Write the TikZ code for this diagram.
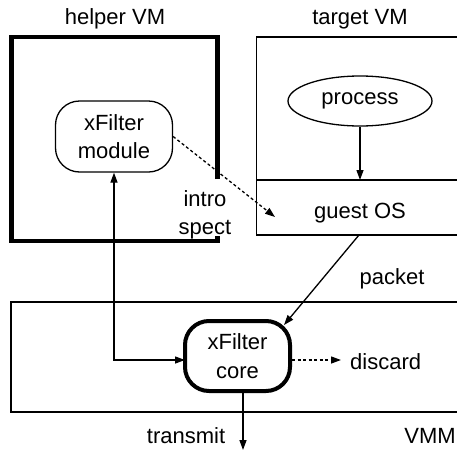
\documentclass[tikz,border=0pt]{standalone}
\usepackage{fontspec}
\setmainfont{Liberation Sans}
\usetikzlibrary{arrows.meta,shapes.geometric}
\begin{document}
\begin{tikzpicture}[x=1pt,y=-1pt,
  lbl/.style={font=\fontsize{22}{28.5}\selectfont, inner sep=0pt, align=center},
  boxline/.style={line width=1.3pt},
  tip/.style={-{Triangle[length=10pt,width=7pt]}},
  rbox/.style={lbl, draw, rounded corners=24pt, line width=1.3pt},
]
\useasboundingbox (0,0) rectangle (457,450);

% helper VM box
\draw[line width=4.5pt] (217.5,179) -- (217.5,37) -- (11.5,37) -- (11.5,241) -- (217.5,241) -- (217.5,236);
\node[lbl] (helperlbl) at (115,19) {helper VM};

% target VM box
\draw[boxline] (458,37) -- (256.5,37) -- (256.5,235) -- (458,235);
\draw[boxline] (256.5,180) -- (458,180);
\node[lbl] (targetlbl) at (360,19) {target VM};

% VMM box
\draw[boxline] (458,302) -- (11,302) -- (11,412) -- (458,412);
\node[lbl] (vmmlbl) at (430,436) {VMM};

% nodes
\node[rbox, minimum width=117pt, minimum height=71pt] (module) at (114,136.5) {xFilter\\module};
\node[rbox, line width=4pt, minimum width=105pt, minimum height=70pt] (core) at (237.5,356) {xFilter\\core};
\node[lbl, draw, ellipse, line width=1.3pt, minimum width=144pt, minimum height=50pt] (process) at (360,101) {\raisebox{-3pt}{process}};
\node[lbl] (guest) at (360,213) {guest OS};
\node[lbl] (intro) at (205,215) {intro\\spect};
\node[lbl] (packetlbl) at (392,279) {packet};
\node[lbl, anchor=west] (discard) at (350,362) {discard};
\node[lbl] (transmit) at (186,436) {transmit};

% coordinates
\coordinate (ostop) at (360,180);
\coordinate (introend) at (275,217);
\coordinate (osbot) at (359,235);
\coordinate (pkend) at (284,325);
\coordinate (corein) at (185,360);
\coordinate (discardend) at (341,360);
\coordinate (txtop) at (243,391);
\coordinate (txend) at (243,450);

% connectors
\draw[boxline, tip] (process) -- (ostop);
\draw[boxline, dash pattern=on 3pt off 2.5pt, tip] (module.east) -- (introend);
\draw[boxline, tip] (osbot) -- (pkend);
\draw[boxline, {Triangle[length=10pt,width=7pt]}-{Triangle[length=10pt,width=7pt]}] (module.south) |- (corein);
\draw[boxline, dash pattern=on 3pt off 2.5pt, tip] (core.east |- discardend) -- (discardend);
\draw[boxline, tip] (txtop) -- (txend);
\end{tikzpicture}
\end{document}
